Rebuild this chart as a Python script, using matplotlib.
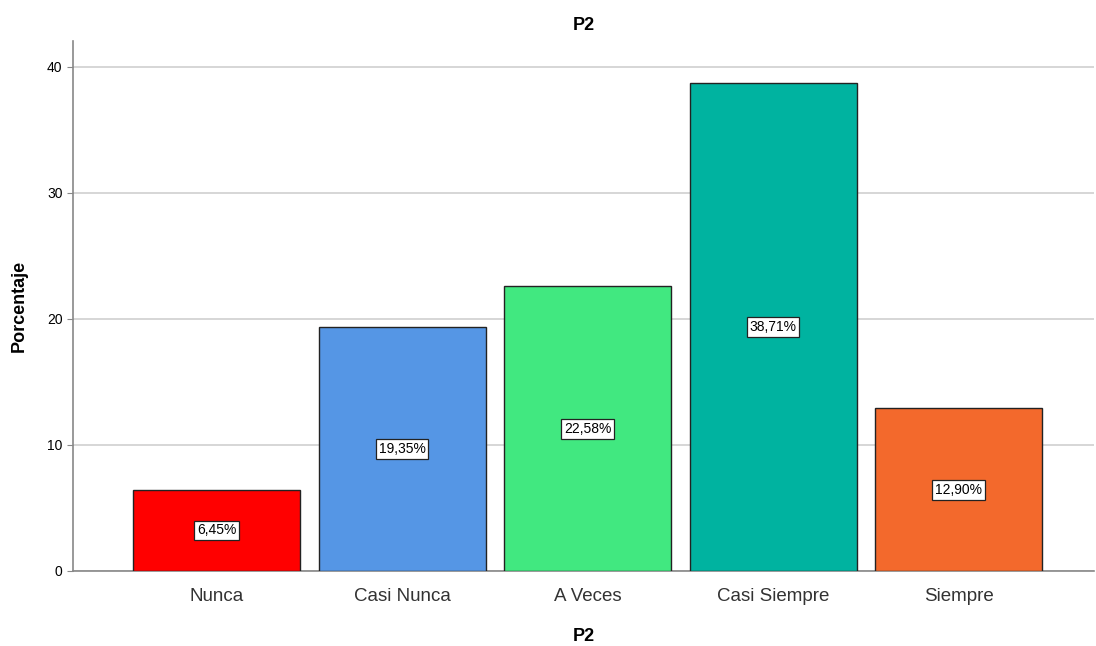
import matplotlib
matplotlib.use('Agg')
import matplotlib.pyplot as plt

plt.rcParams['font.family'] = ['Liberation Sans', 'DejaVu Sans']

cats = ['Nunca', 'Casi Nunca', 'A Veces', 'Casi Siempre', 'Siempre']
pcts = [6.45, 19.35, 22.58, 38.71, 12.90]
cols = ['#FF0000', '#5596E5', '#41E880', '#00B3A0', '#F3692C']
yticks = [0, 10, 20, 30, 40]

fig = plt.figure(figsize=(10.96, 6.46), dpi=100)
ax = fig.add_axes([0.0666, 0.1161, 0.9316, 0.8204])

x = list(range(len(cats)))
bars = ax.bar(x, pcts, width=0.9, color=cols, edgecolor='#222222', linewidth=1.0, zorder=3)

for b, v in zip(bars, pcts):
    lbl = f'{v:.2f}'.replace('.', ',') + '%'
    ax.text(b.get_x() + b.get_width() / 2, v / 2, lbl, ha='center', va='center',
            fontsize=10, zorder=4,
            bbox=dict(boxstyle='square,pad=0.2', fc='white', ec='#222222', lw=0.9))

ax.set_xlim(-0.775, 4.73)
ax.set_ylim(0, 42.06)
ax.set_yticks(yticks)
ax.set_xticks(x)
ax.set_xticklabels(cats, fontsize=13.5, color='#333333')
ax.tick_params(axis='y', labelsize=10, length=4, color='#888888')
ax.tick_params(axis='x', length=0, pad=12)
ax.grid(axis='y', color='#d0d0d0', lw=1.2, zorder=0)

for s in ['top', 'right']:
    ax.spines[s].set_visible(False)
for s in ['left', 'bottom']:
    ax.spines[s].set_color('#888888')
    ax.spines[s].set_linewidth(1.2)

ax.set_title('P2', fontsize=13, fontweight='bold', pad=8)
ax.set_xlabel('P2', fontsize=13, fontweight='bold', labelpad=17)
ax.set_ylabel('Porcentaje', fontsize=13, fontweight='bold', labelpad=14)

fig.savefig('out.png', dpi=100)
